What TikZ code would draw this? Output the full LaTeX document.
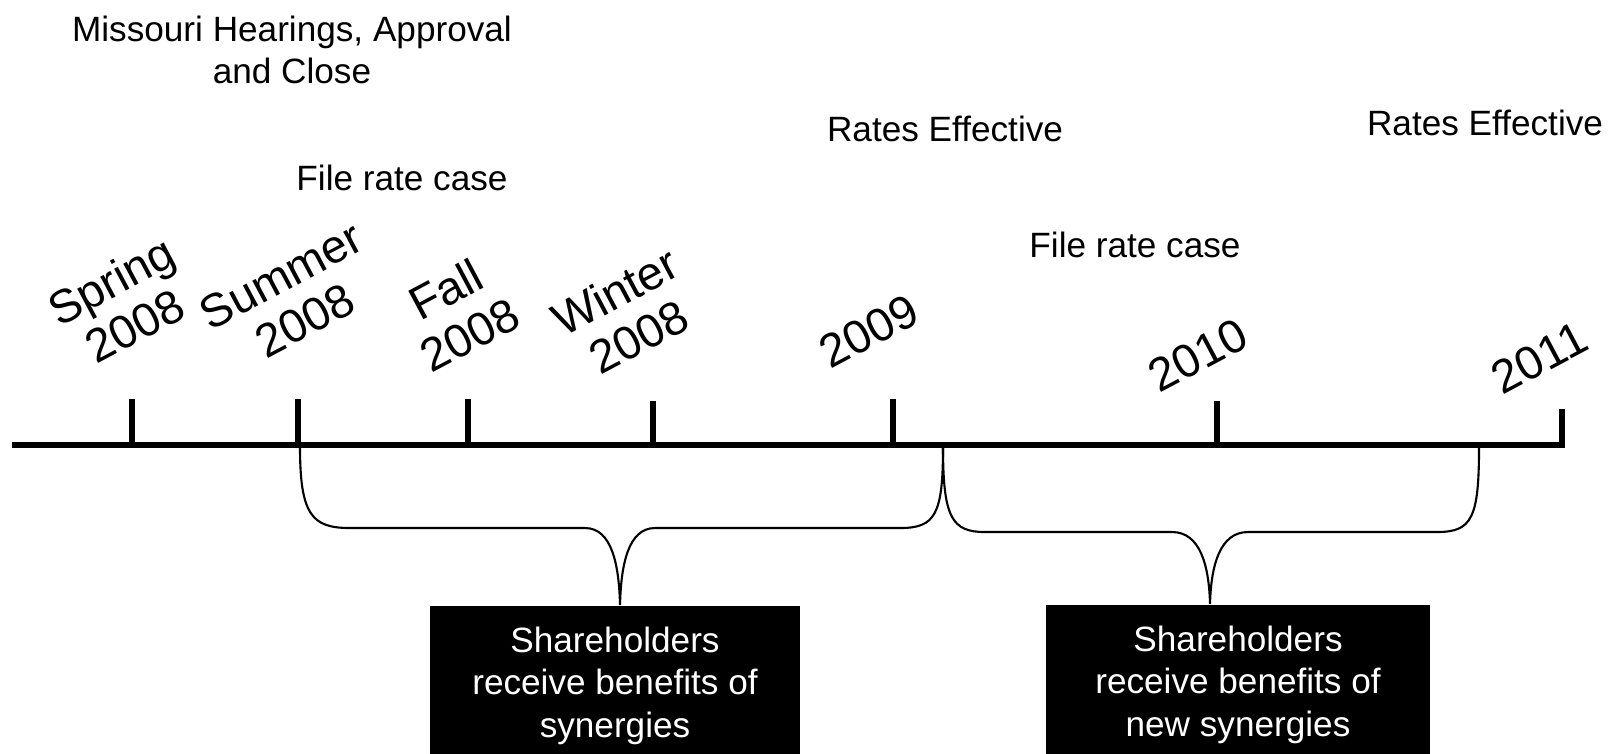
\documentclass[tikz,border=0pt]{standalone}
\usepackage{fontspec}
\setmainfont{Liberation Sans}
\usetikzlibrary{positioning}

\begin{document}
\begin{tikzpicture}[x=0.01cm,y=-0.01cm]
\tikzset{
	axis/.style={line width=1.7pt},
	tick/.style={line width=1.5pt},
	brace/.style={line width=0.6pt},
	lab/.style={font=\fontsize{10}{12}\selectfont, align=center, inner sep=0pt},
	year/.style={font=\fontsize{13.3}{14.5}\selectfont, align=center, rotate=28, inner sep=0pt},
	box/.style={fill=black, text=white, font=\fontsize{10}{12}\selectfont, align=center, minimum width=3.7cm, minimum height=1.6cm, inner sep=0pt}
}
\useasboundingbox (0,0) rectangle (1613,753);

% time line
\coordinate (O) at (12,445);
\coordinate (E) at (1562,445);
\coordinate (T1) at (132,399);
\coordinate (T2) at (298,399);
\coordinate (T3) at (468,399);
\coordinate (T4) at (653,401);
\coordinate (T5) at (893,399);
\coordinate (T6) at (1217,401);
\coordinate (T7) at (1562,409);
\draw[axis] (O) -- (E) -- (T7);
\draw[tick] (T1) -- (T1 |- O);
\draw[tick] (T2) -- (T2 |- O);
\draw[tick] (T3) -- (T3 |- O);
\draw[tick] (T4) -- (T4 |- O);
\draw[tick] (T5) -- (T5 |- O);
\draw[tick] (T6) -- (T6 |- O);

% seasons and years
\node[year] (Y1) at (123,303) {Spring\\2008};
\node[year] (Y2) at (293,298) {Summer\\2008};
\node[year] (Y3) at (458,312) {Fall\\2008};
\node[year] (Y4) at (627,314) {Winter\\2008};
\node[year] (Y5) at (869,331) {2009};
\node[year] (Y6) at (1198,355) {2010};
\node[year] (Y7) at (1539,358) {2011};

% events
\node[lab] (M) at (292,50) {Missouri Hearings, Approval\\and Close};
\node[lab] (F1) at (402,178) {File rate case};
\node[lab] (R1) at (945,129) {Rates Effective};
\node[lab] (F2) at (1135,245) {File rate case};
\node[lab] (R2) at (1485,123) {Rates Effective};

% braces and boxes
\coordinate (A1) at (300,447);
\coordinate (A2) at (943,447);
\coordinate (A3) at (1479,447);
\coordinate (P1) at (620,605);
\coordinate (P2) at (1210,604);
\node[box, below=0pt of P1, xshift=-0.05cm] (B1) {Shareholders\\receive benefits of\\synergies};
\node[box, below=0pt of P2, xshift=0.28cm, minimum width=3.84cm] (B2) {Shareholders\\receive benefits of\\new synergies};
\draw[brace] (A1) .. controls (300,515) and (312,528) .. (350,528) -- (585,528)
	.. controls (612,528) and (619,565) .. (P1)
	.. controls (621,565) and (628,528) .. (655,528) -- (900,528)
	.. controls (935,528) and (943,515) .. (A2);
\draw[brace] (A2) .. controls (943,518) and (952,532) .. (985,532) -- (1172,532)
	.. controls (1200,532) and (1209,565) .. (P2)
	.. controls (1211,565) and (1220,532) .. (1248,532) -- (1437,532)
	.. controls (1472,532) and (1479,518) .. (A3);
\end{tikzpicture}
\end{document}
